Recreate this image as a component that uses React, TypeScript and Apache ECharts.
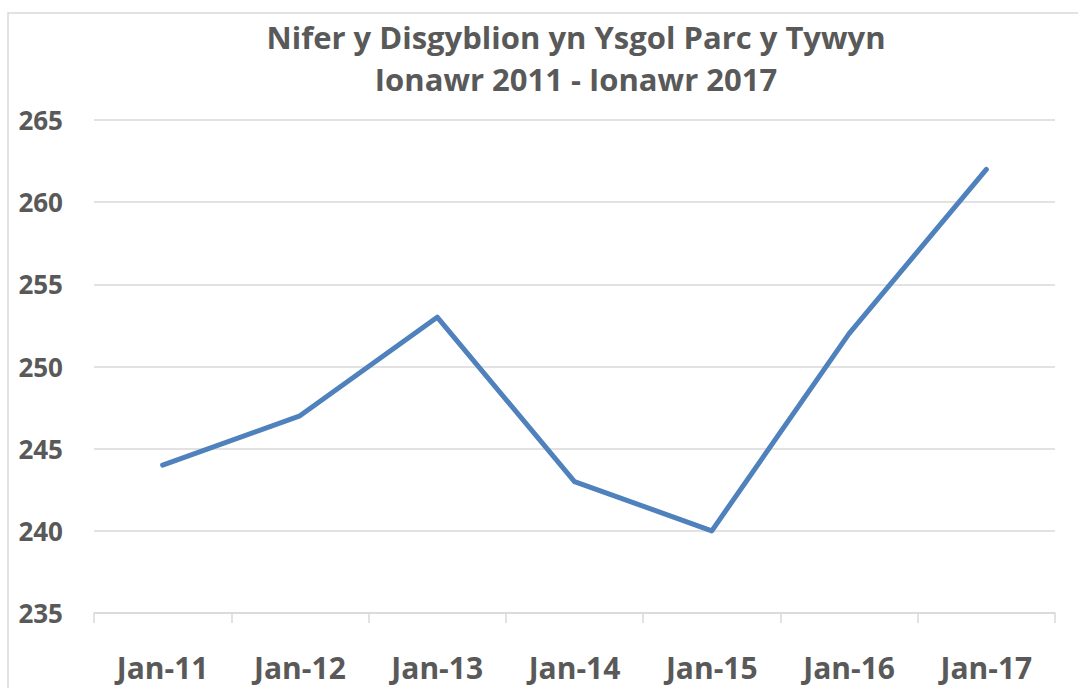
import React, { useEffect, useRef } from "react";
import * as echarts from "echarts";

const categories = ["Jan-11", "Jan-12", "Jan-13", "Jan-14", "Jan-15", "Jan-16", "Jan-17"];
const pupils = [244, 247, 253, 243, 240, 252, 262];
const titleLines = ["Nifer y Disgyblion yn Ysgol Parc y Tywyn", "Ionawr 2011 - Ionawr 2017"];

export default function App() {
  const ref = useRef<HTMLDivElement>(null);
  useEffect(() => {
    const chart = echarts.init(ref.current!, undefined, { renderer: "svg" });
    const font = "'Open Sans', sans-serif";
    chart.setOption({
      animation: false,
      backgroundColor: "#ffffff",
      title: {
        text: titleLines.join("\n"),
        left: 571,
        top: 11,
        textAlign: "center",
        textStyle: { fontFamily: font, fontWeight: "bold", fontSize: 31, color: "#595959", lineHeight: 42 },
      },
      graphic: [
        {
          type: "rect",
          shape: { x: 8, y: 13, width: 1100, height: 700 },
          style: { fill: "none", stroke: "#d9d9d9", lineWidth: 1.5 },
          silent: true,
        },
      ],
      grid: { left: 94, right: 23, top: 120, bottom: 75 },
      xAxis: {
        type: "category",
        data: categories,
        boundaryGap: true,
        axisLine: { lineStyle: { color: "#d9d9d9", width: 1.5 } },
        axisTick: { show: true, length: 10, lineStyle: { color: "#d9d9d9", width: 1.5 } },
        axisLabel: { fontFamily: font, fontWeight: "bold", fontSize: 30, color: "#595959", margin: 39 },
      },
      yAxis: {
        type: "value",
        min: 235,
        max: 265,
        interval: 5,
        axisLine: { show: false },
        axisTick: { show: false },
        splitLine: { lineStyle: { color: "#d9d9d9", width: 1.5 } },
        axisLabel: { fontFamily: font, fontWeight: "bold", fontSize: 26, color: "#595959", margin: 31 },
      },
      series: [
        {
          type: "line",
          data: pupils,
          symbol: "none",
          lineStyle: { color: "#4f81bd", width: 5, cap: "round", join: "round" },
        },
      ],
    });
    return () => chart.dispose();
  }, []);
  return <div ref={ref} style={{ position: "absolute", left: 0, top: 0, width: 1078, height: 688 }} />;
}
